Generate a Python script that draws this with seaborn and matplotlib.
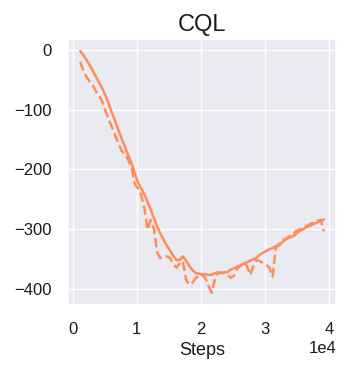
import numpy as np
import pandas as pd
import seaborn as sns
import matplotlib
matplotlib.use("Agg")
import matplotlib.pyplot as plt

# steps, every 500 from 1200
steps = np.arange(1200, 39201, 500)

# smoothed return (solid)
solid = [-2, -9, -17, -26, -36, -46, -56, -66, -78, -92,
         -107, -121, -136, -150, -163, -177, -190, -206, -222, -232,
         -242, -255, -268, -282, -296, -308, -318, -328, -336, -345,
         -352, -352, -346, -353, -362, -369, -374, -375, -376, -376,
         -377, -377, -374, -373, -373, -373, -372, -368, -366, -363,
         -361, -358, -356, -353, -351, -348, -343, -340, -337, -334,
         -332, -329, -328, -322, -318, -315, -313, -310, -305, -302,
         -299, -296, -294, -291, -289, -287, -284]

# raw return (dashed)
dashed = [-20, -35, -46, -53, -60, -70, -78, -88, -104, -118,
          -131, -145, -158, -170, -174, -185, -197, -225, -232, -243,
          -265, -301, -285, -300, -340, -349, -347, -346, -349, -358,
          -365, -358, -354, -385, -393, -390, -383, -377, -377, -382,
          -395, -407, -385, -374, -374, -374, -377, -382, -378, -366,
          -362, -356, -362, -377, -362, -352, -354, -357, -360, -365,
          -380, -332, -325, -318, -317, -313, -310, -305, -302, -299,
          -297, -294, -291, -288, -286, -285, -304]

df = pd.DataFrame({"Steps": steps, "solid": solid, "dashed": dashed})

sns.set_theme(style="darkgrid")
plt.rcParams["font.family"] = ["Liberation Sans", "DejaVu Sans"]
color = "#ff8c5a"

fig, ax = plt.subplots(figsize=(3.49, 3.75), dpi=100)
sns.lineplot(data=df, x="Steps", y="solid", color=color, linewidth=1.8, ax=ax)
sns.lineplot(data=df, x="Steps", y="dashed", color=color, linewidth=1.8,
             linestyle="--", ax=ax)

ax.set_title("CQL", fontsize=17, color="#1a1a1a")
ax.set_xlabel("Steps", fontsize=13, color="#1a1a1a")
ax.set_ylabel("")
ax.set_xticks([0, 10000, 20000, 30000, 40000])
ax.set_yticks([0, -100, -200, -300, -400])
ax.ticklabel_format(axis="x", style="sci", scilimits=(0, 0))
ax.tick_params(labelsize=12, pad=6, labelcolor="#1a1a1a")
ax.xaxis.get_offset_text().set_fontsize(12)

fig.subplots_adjust(left=0.195, right=0.963, top=0.896, bottom=0.187)
fig.savefig("out.png", dpi=100)
